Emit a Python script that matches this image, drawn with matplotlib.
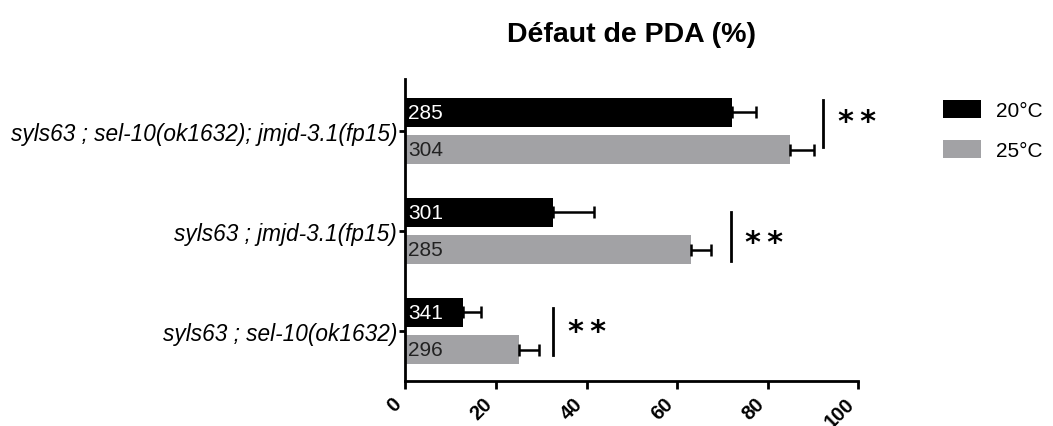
import numpy as np
import matplotlib.pyplot as plt

plt.rcParams['font.family'] = ['Liberation Sans', 'DejaVu Sans']

# genotypes, bottom to top
genotypes = ['syls63 ; sel-10(ok1632)',
             'syls63 ; jmjd-3.1(fp15)',
             'syls63 ; sel-10(ok1632); jmjd-3.1(fp15)']
temps = ['20°C', '25°C']

pda_20 = [12.8, 32.5, 72.2]
err_20 = [4.0, 9.1, 5.3]
n_20 = ['341', '301', '285']

pda_25 = [25.1, 63.0, 85.0]
err_25 = [4.4, 4.5, 5.3]
n_25 = ['296', '285', '304']

# significance bars: x position, vertical span around group centre, stars
sig_x = [32.6, 71.9, 92.3]
sig_hi = [0.23, 0.19, 0.31]
sig_lo = [-0.24, -0.30, -0.16]
star_y = [0.0, -0.11, 0.09]
sig_label = ['*\u2009*', '*\u2009*', '*\u2009*']

fig = plt.figure(figsize=(10.53, 4.27), dpi=100)
ax = fig.add_axes([0.385, 0.105, 0.43, 0.708])

y = np.arange(len(genotypes))
off = 0.187
h = 0.29
grey = '#a2a2a5'

ax.barh(y + off, pda_20, height=h, color='black', label=temps[0])
ax.barh(y - off, pda_25, height=h, color=grey, label=temps[1])

ekw = dict(fmt='none', ecolor='black', elinewidth=1.8, capsize=4, capthick=1.8)
ax.errorbar(pda_20, y + off, xerr=[np.zeros(3), err_20], **ekw)
ax.errorbar(pda_25, y - off, xerr=[np.zeros(3), err_25], **ekw)

for i in range(len(genotypes)):
    ax.text(0.6, y[i] + off, n_20[i], color='white', fontsize=15, va='center', ha='left')
    ax.text(0.6, y[i] - off, n_25[i], color='#222222', fontsize=15, va='center', ha='left')
    ax.plot([sig_x[i], sig_x[i]], [y[i] + sig_lo[i], y[i] + sig_hi[i]],
            color='black', lw=2, clip_on=False)
    ax.text(sig_x[i] + 3.2, y[i] + star_y[i], sig_label[i], fontsize=22, fontweight='bold',
            va='center', ha='left', family='DejaVu Sans', clip_on=False)

ax.set_xlim(0, 100)
ax.set_ylim(-0.5, 2.52)
ax.set_xticks([0, 20, 40, 60, 80, 100])
ax.set_xticklabels(['0', '20', '40', '60', '80', '100'], rotation=45, ha='right',
                   fontweight='bold', fontsize=14.5)
ax.set_yticks(y)
ax.set_yticklabels(genotypes, fontstyle='italic', fontsize=16.3)

for s in ['top', 'right']:
    ax.spines[s].set_visible(False)
for s in ['left', 'bottom']:
    ax.spines[s].set_linewidth(2)
ax.tick_params(axis='x', length=6, width=2, pad=3)
ax.tick_params(axis='y', length=4, width=2, pad=2)

ax.set_title('Défaut de PDA (%)', fontsize=20.5, fontweight='bold', pad=27)

ax.legend(loc='upper left', bbox_to_anchor=(1.188, 0.93), frameon=False, fontsize=15,
          borderpad=0, borderaxespad=0,
          handlelength=1.83, handleheight=0.96, labelspacing=0.95, handletextpad=0.72)

fig.savefig('out.png', dpi=100)
